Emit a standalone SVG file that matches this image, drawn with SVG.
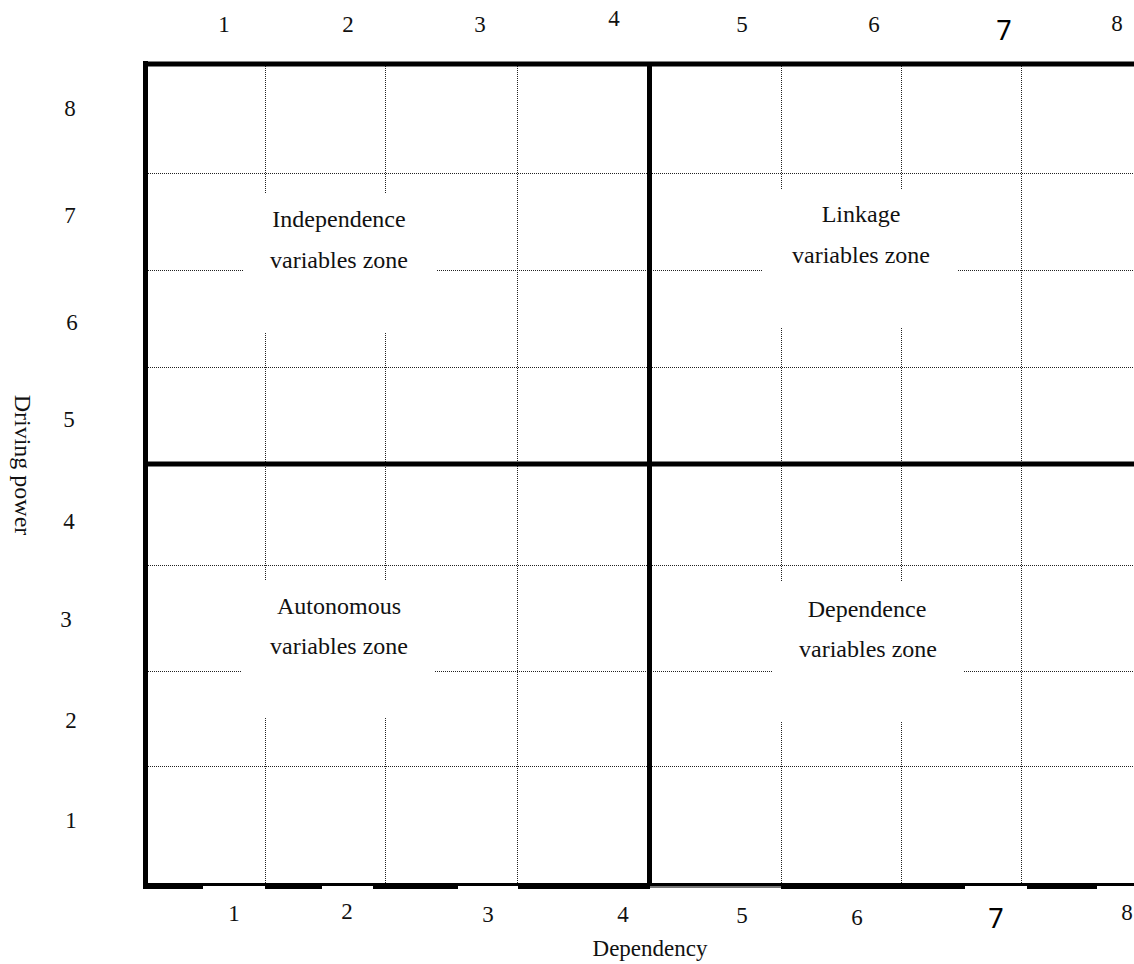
<svg xmlns="http://www.w3.org/2000/svg" width="1134" height="964" viewBox="0 0 1134 964">
<style>
.bg{fill:#ffffff}
.thick{stroke:#000;stroke-width:5;fill:none;stroke-linecap:butt}
.dot{stroke:#222;stroke-width:1;stroke-dasharray:1 1;fill:none;shape-rendering:crispEdges}
.num{font-family:"Liberation Serif","Times New Roman",serif;font-size:23px;fill:#111;text-anchor:middle}
.sev{font-family:"Noto Sans","Open Sans",sans-serif;font-size:27px;fill:#000;text-anchor:middle}
.lbl{font-family:"Liberation Serif","Times New Roman",serif;font-size:24px;fill:#111;text-anchor:middle}
.ax{font-family:"Liberation Serif","Times New Roman",serif;font-size:23px;fill:#111;text-anchor:middle}
</style>
<rect class="bg" x="0" y="0" width="1134" height="964"/>

<g id="grid-dotted">
  <line class="dot" x1="146" y1="173.5" x2="1134" y2="173.5"/>
  <line class="dot" x1="146" y1="270.5" x2="243" y2="270.5"/>
  <line class="dot" x1="437" y1="270.5" x2="762" y2="270.5"/>
  <line class="dot" x1="958" y1="270.5" x2="1134" y2="270.5"/>
  <line class="dot" x1="146" y1="367.5" x2="1134" y2="367.5"/>
  <line class="dot" x1="146" y1="565.5" x2="1134" y2="565.5"/>
  <line class="dot" x1="146" y1="671.5" x2="241" y2="671.5"/>
  <line class="dot" x1="435" y1="671.5" x2="772" y2="671.5"/>
  <line class="dot" x1="964" y1="671.5" x2="1134" y2="671.5"/>
  <line class="dot" x1="146" y1="766.5" x2="1134" y2="766.5"/>
  <line class="dot" x1="265.5" y1="64" x2="265.5" y2="193"/>
  <line class="dot" x1="265.5" y1="333" x2="265.5" y2="580"/>
  <line class="dot" x1="265.5" y1="718" x2="265.5" y2="885"/>
  <line class="dot" x1="385.5" y1="64" x2="385.5" y2="193"/>
  <line class="dot" x1="385.5" y1="333" x2="385.5" y2="580"/>
  <line class="dot" x1="385.5" y1="718" x2="385.5" y2="885"/>
  <line class="dot" x1="517.5" y1="64" x2="517.5" y2="885"/>
  <line class="dot" x1="781.5" y1="64" x2="781.5" y2="190"/>
  <line class="dot" x1="781.5" y1="328" x2="781.5" y2="582"/>
  <line class="dot" x1="781.5" y1="722" x2="781.5" y2="885"/>
  <line class="dot" x1="901.5" y1="64" x2="901.5" y2="190"/>
  <line class="dot" x1="901.5" y1="328" x2="901.5" y2="582"/>
  <line class="dot" x1="901.5" y1="722" x2="901.5" y2="885"/>
  <line class="dot" x1="1021.5" y1="64" x2="1021.5" y2="885"/>
</g>

<g id="frame">
  <line class="thick" x1="143" y1="64" x2="1134" y2="64"/>
  <line class="thick" x1="145.5" y1="61" x2="145.5" y2="889"/>
  <line class="thick" x1="649.5" y1="62" x2="649.5" y2="887"/>
  <line class="thick" x1="143" y1="464" x2="1134" y2="464"/>
  <rect x="143" y="883" width="991" height="3" fill="#000"/>
  <rect x="143" y="886" width="60" height="3" fill="#000"/>
  <rect x="265" y="886" width="57" height="3" fill="#000"/>
  <rect x="373" y="886" width="85" height="3" fill="#000"/>
  <rect x="518" y="886" width="132" height="3" fill="#000"/>
  <rect x="650" y="886" width="131" height="2" fill="#777"/>
  <rect x="781" y="886" width="184" height="3" fill="#000"/>
  <rect x="1027" y="886" width="70" height="3" fill="#000"/>
</g>

<g id="top-axis">
  <text class="num" x="224" y="32">1</text>
  <text class="num" x="348" y="32">2</text>
  <text class="num" x="480" y="32">3</text>
  <text class="num" x="614" y="26">4</text>
  <text class="num" x="742" y="32">5</text>
  <text class="num" x="874" y="32">6</text>
  <text class="sev" x="1004" y="40">7</text>
  <text class="num" x="1117" y="31">8</text>
</g>

<g id="left-axis">
  <text class="num" x="70" y="116">8</text>
  <text class="num" x="70" y="223">7</text>
  <text class="num" x="72" y="330">6</text>
  <text class="num" x="69" y="427">5</text>
  <text class="num" x="69" y="529">4</text>
  <text class="num" x="66" y="627">3</text>
  <text class="num" x="71" y="728">2</text>
  <text class="num" x="71" y="828">1</text>
  <text class="ax" transform="translate(15,465) rotate(90)" x="0" y="0" style="font-size:24px">Driving power</text>
</g>

<g id="bottom-axis">
  <text class="num" x="234" y="921">1</text>
  <text class="num" x="347" y="919">2</text>
  <text class="num" x="488" y="922">3</text>
  <text class="num" x="623" y="922">4</text>
  <text class="num" x="742" y="923">5</text>
  <text class="num" x="857" y="925">6</text>
  <text class="sev" x="996" y="928">7</text>
  <text class="num" x="1127" y="920">8</text>
  <text class="ax" x="650" y="956">Dependency</text>
</g>

<g id="zone-independence">
  <text class="lbl" x="339" y="227">Independence</text>
  <text class="lbl" x="339" y="268">variables zone</text>
</g>
<g id="zone-linkage">
  <text class="lbl" x="861" y="222">Linkage</text>
  <text class="lbl" x="861" y="263">variables zone</text>
</g>
<g id="zone-autonomous">
  <text class="lbl" x="339" y="614">Autonomous</text>
  <text class="lbl" x="339" y="654">variables zone</text>
</g>
<g id="zone-dependence">
  <text class="lbl" x="867" y="617">Dependence</text>
  <text class="lbl" x="868" y="657">variables zone</text>
</g>
</svg>
